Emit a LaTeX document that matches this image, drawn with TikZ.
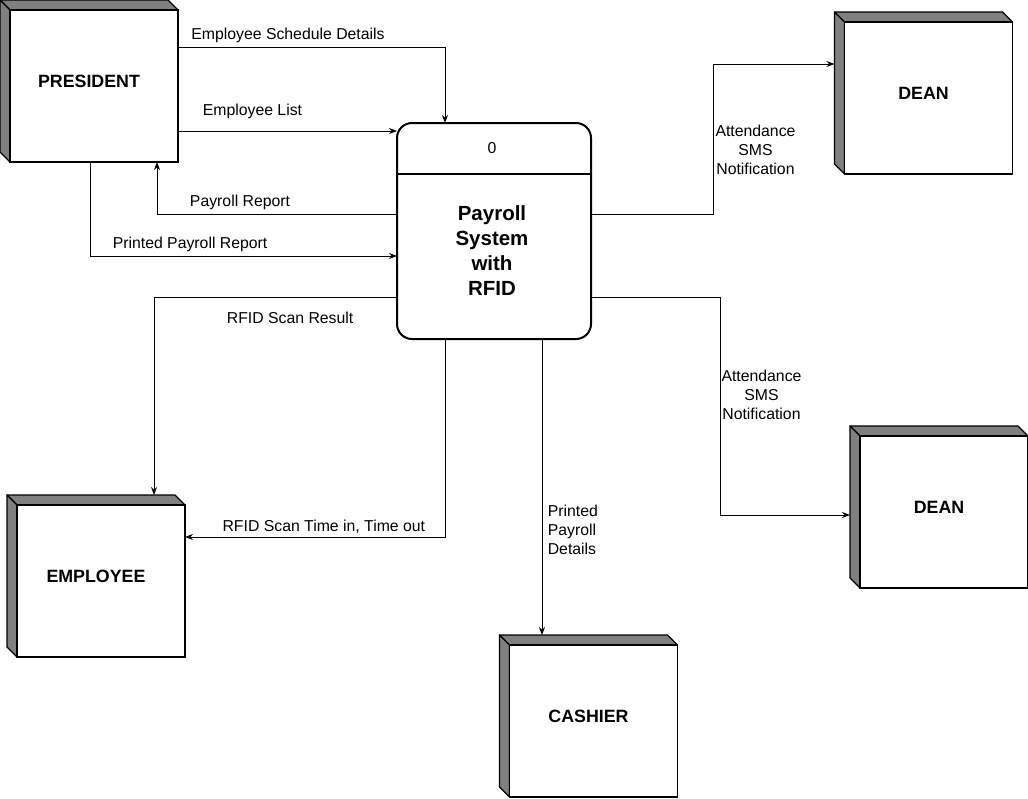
\documentclass[tikz,border=0pt]{standalone}
\usepackage{fontspec}
\setmainfont{Liberation Sans}
\usetikzlibrary{arrows.meta,backgrounds}

\definecolor{sidegray}{RGB}{128,128,128}

% side faces + front face of an external entity, drawn behind its label
\newcommand{\cubesides}[1]{%
  \begin{scope}[on background layer]
    \filldraw[face] (#1.north west) -- ([shift={(-10,0)}]#1.north east) -- ([shift={(0,10)}]#1.north east) -- ([shift={(10,10)}]#1.north west) -- cycle;
    \filldraw[face] (#1.north west) -- ([shift={(10,10)}]#1.north west) -- ([shift={(10,0)}]#1.south west) -- ([shift={(0,-10)}]#1.south west) -- cycle;
    \filldraw[front] ([shift={(10,10)}]#1.north west) rectangle (#1.south east);
  \end{scope}}

\begin{document}
\begin{tikzpicture}[
    x=1pt, y=-1pt,
    >={Stealth[length=8pt,width=6pt]},
    arr/.style={->, line width=1pt},
    face/.style={fill=sidegray, draw=black, line width=1.2pt, line join=round},
    front/.style={fill=white, draw=black, line width=1.2pt},
    entity/.style={minimum width=178pt, minimum height=162pt, inner sep=0pt, outer sep=0pt, font=\bfseries\fontsize{17.8}{21}\selectfont},
    process/.style={draw, rounded corners=15pt, line width=2pt, minimum width=194pt, minimum height=216pt, outer sep=0pt},
    lbl/.style={font=\fontsize{15.8}{19}\selectfont, align=center}
]
\useasboundingbox (0,0) rectangle (1028,798);

% ---------------- external entities ----------------
\node[entity] (president) at (89,81) {PRESIDENT};
\cubesides{president}
\node[entity] (dean1) at (923.5,93) {DEAN};
\cubesides{dean1}
\node[entity] (dean2) at (939,507) {DEAN};
\cubesides{dean2}
\node[entity] (employee) at (96,576) {EMPLOYEE};
\cubesides{employee}
\node[entity] (cashier) at (588.5,716) {CASHIER};
\cubesides{cashier}

% ---------------- process 0 ----------------
\node[process] (process) at (494,231) {};
\draw[line width=2pt] (process.west |- 0,174) -- (process.east |- 0,174);
\node[font=\fontsize{15.8}{19}\selectfont] (pid) at (492,148) {0};
\node[align=center, font=\bfseries\fontsize{20.5}{25}\selectfont] (ptitle) at (492,251)
{Payroll\\System\\with\\RFID};

% ---------------- flows ----------------
\draw[arr] (president.east |- 0,47) -| node[lbl, above, pos=0.206] {Employee Schedule Details} (445,0 |- process.north);
\draw[arr] (president.east |- 0,131) -- node[lbl, above, pos=0.34, yshift=8pt] {Employee List} (process.west |- 0,131);
\draw[arr] (process.west |- 0,214) -| node[lbl, above, pos=0.327] {Payroll Report} (157,0 |- president.south);
\draw[arr] (90,0 |- president.south) |- node[lbl, above, pos=0.663] {Printed Payroll Report} (process.west |- 0,256);

\draw[arr] (process.west |- 0,297) -| node[lbl, below, pos=0.22, yshift=-11pt] {RFID Scan Result} (154,0 |- employee.north);
\draw[arr] (445,0 |- process.south) |- node[lbl, above, pos=0.733] {RFID Scan Time in, Time out} (employee.east |- 0,537);
\draw[arr] (542,0 |- process.south) -- node[lbl, right, align=left, pos=0.645, xshift=2pt] {Printed\\Payroll\\Details} (542,0 |- cashier.north);

\draw[arr] (process.east |- 0,214) -- ++(122,0) |- node[lbl, right, inner sep=2pt, pos=0.213] {Attendance\\SMS\\Notification} (dean1.west |- 0,64);
\draw[arr] (process.east |- 0,297) -- ++(129,0) |- node[lbl, right, inner sep=1pt, pos=0.225] {Attendance\\SMS\\Notification} (dean2.west |- 0,515);

\end{tikzpicture}
\end{document}
